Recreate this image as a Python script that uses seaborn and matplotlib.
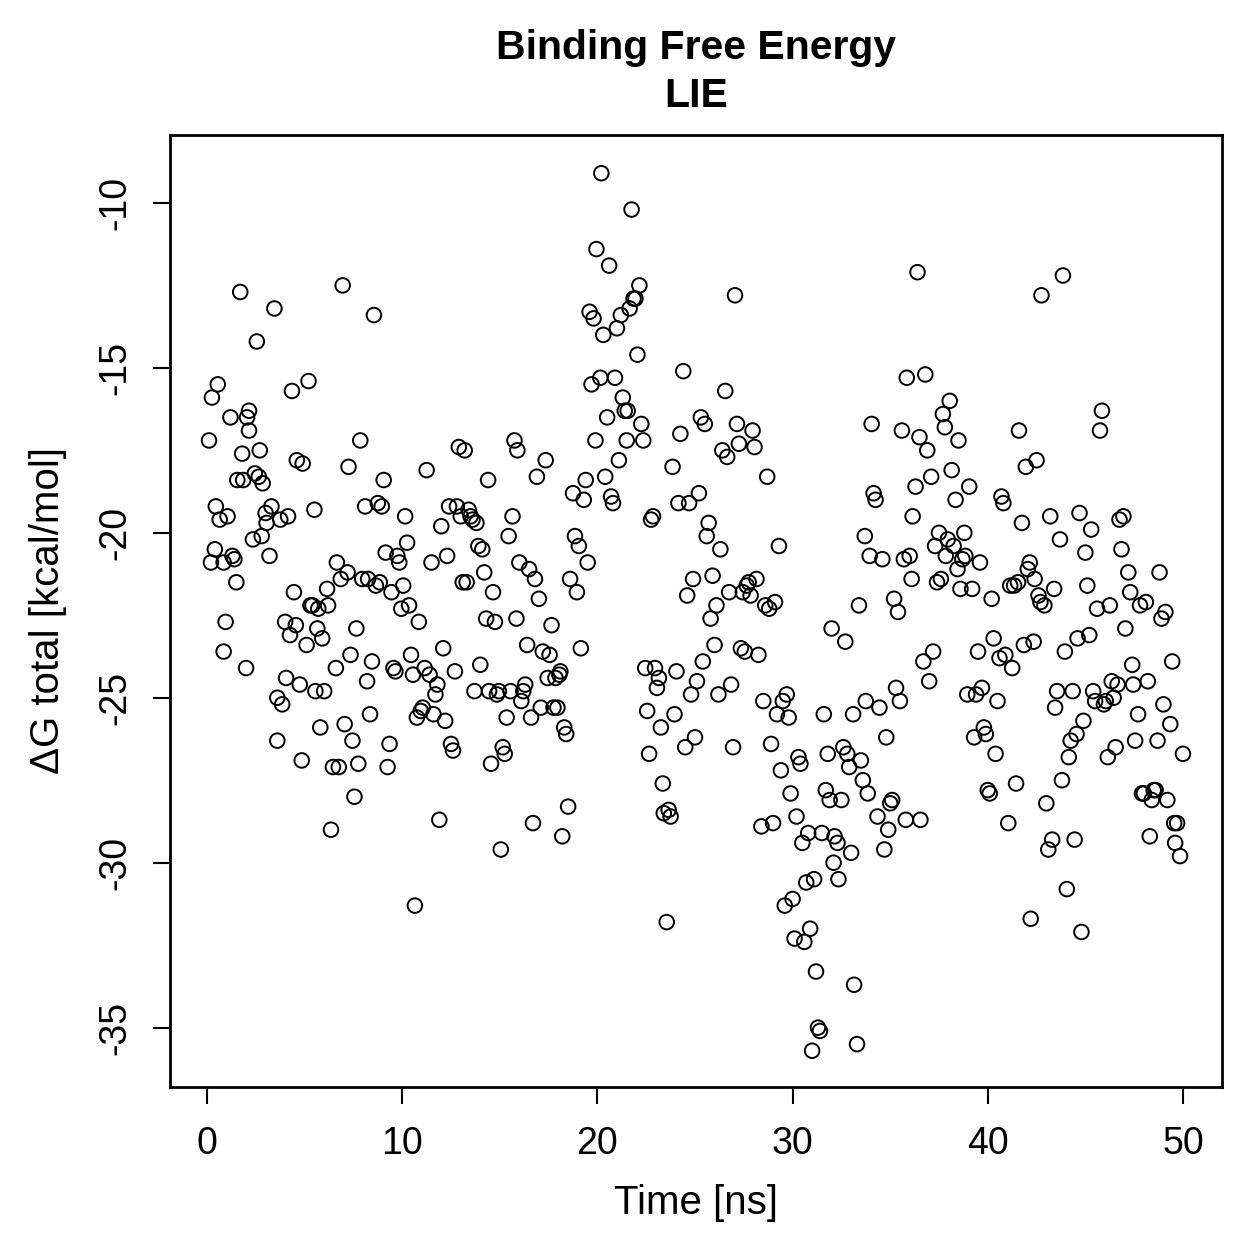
import numpy as np
import pandas as pd
import matplotlib
matplotlib.use("Agg")
import matplotlib.pyplot as plt
import seaborn as sns

# time points [ns]
time_ns = [
    0.1, 0.25, 0.55, 0.2, 0.4, 0.45, 0.65, 0.85, 0.85, 0.95, 1.05, 1.2, 1.3, 1.4, 1.5, 1.55, 1.7, 1.8, 1.85, 2.0,
    2.05, 2.15, 2.15, 2.35, 2.45, 2.55, 2.65, 2.7, 2.8, 2.85, 3.0, 3.05, 3.2, 3.3, 3.45, 3.6, 3.6, 3.75, 3.85, 4.0,
    4.05, 4.15, 4.25, 4.35, 4.45, 4.55, 4.6, 4.75, 4.85, 4.9, 5.1, 5.2, 5.3, 5.4, 5.5, 5.55, 5.65, 5.7, 5.8, 5.9,
    6.0, 6.15, 6.2, 6.35, 6.45, 6.6, 6.65, 6.75, 6.85, 6.95, 7.05, 7.2, 7.25, 7.35, 7.45, 7.55, 7.65, 7.75, 7.85, 7.95,
    8.1, 8.2, 8.25, 8.35, 8.45, 8.55, 8.65, 8.75, 8.85, 8.95, 9.05, 9.15, 9.25, 9.35, 9.45, 9.55, 9.65, 9.75, 9.85, 9.95,
    10.05, 10.15, 10.25, 10.35, 10.45, 10.55, 10.65, 10.75, 10.85, 10.95, 11.05, 11.15, 11.25, 11.4, 11.5, 11.6, 11.7, 11.8, 11.9, 12.0,
    12.1, 12.2, 12.3, 12.4, 12.5, 12.6, 12.7, 12.8, 12.9, 13.0, 13.1, 13.2, 13.3, 13.4, 13.5, 13.6, 13.7, 13.8, 13.9, 14.0,
    14.1, 14.2, 14.3, 14.4, 14.45, 14.55, 14.65, 14.75, 14.85, 14.95, 15.05, 15.15, 15.25, 15.35, 15.45, 15.55, 15.65, 15.75, 15.85, 15.9,
    16.0, 16.1, 16.2, 16.3, 16.4, 16.5, 16.6, 16.7, 16.8, 16.9, 17.0, 17.1, 17.2, 17.35, 17.45, 17.55, 17.65, 17.75, 17.85, 17.95,
    18.05, 18.1, 18.2, 18.3, 18.4, 18.5, 18.6, 18.75, 18.85, 18.95, 19.05, 19.15, 19.3, 19.4, 19.5, 19.6, 19.7, 19.8, 19.9, 19.95,
    20.15, 20.2, 20.3, 20.4, 20.5, 20.6, 20.7, 20.8, 20.9, 21.0, 21.1, 21.2, 21.3, 21.4, 21.5, 21.55, 21.65, 21.75, 21.85, 21.95,
    22.05, 22.15, 22.25, 22.35, 22.45, 22.55, 22.65, 22.75, 22.85, 22.95, 23.05, 23.15, 23.25, 23.35, 23.4, 23.55, 23.65, 23.75, 23.85, 23.95,
    24.05, 24.15, 24.25, 24.4, 24.5, 24.6, 24.7, 24.8, 24.9, 25.0, 25.1, 25.2, 25.3, 25.4, 25.5, 25.6, 25.7, 25.8, 25.9, 26.0,
    26.1, 26.2, 26.3, 26.4, 26.55, 26.65, 26.75, 26.85, 26.95, 27.05, 27.15, 27.25, 27.35, 27.45, 27.55, 27.65, 27.75, 27.85, 27.95, 28.05,
    28.15, 28.25, 28.4, 28.5, 28.6, 28.7, 28.8, 28.9, 29.0, 29.1, 29.2, 29.3, 29.4, 29.5, 29.6, 29.7, 29.8, 29.9, 30.0, 30.1,
    30.2, 30.3, 30.4, 30.5, 30.6, 30.7, 30.8, 30.9, 31.0, 31.1, 31.2, 31.3, 31.4, 31.5, 31.6, 31.7, 31.8, 31.9, 32.0, 32.1,
    32.15, 32.3, 32.35, 32.5, 32.6, 32.7, 32.8, 32.9, 33.0, 33.1, 33.15, 33.3, 33.4, 33.5, 33.6, 33.7, 33.75, 33.85, 33.95, 34.05,
    34.15, 34.25, 34.35, 34.45, 34.6, 34.7, 34.8, 34.9, 35.0, 35.1, 35.2, 35.3, 35.4, 35.5, 35.6, 35.7, 35.8, 35.85, 36.0, 36.1,
    36.15, 36.3, 36.4, 36.5, 36.55, 36.7, 36.8, 36.9, 37.0, 37.1, 37.2, 37.3, 37.4, 37.5, 37.6, 37.7, 37.8, 37.85, 37.95, 38.05,
    38.15, 38.25, 38.35, 38.45, 38.5, 38.6, 38.7, 38.8, 38.85, 38.95, 39.05, 39.2, 39.3, 39.4, 39.5, 39.6, 39.7, 39.8, 39.9, 40.0,
    40.1, 40.2, 40.3, 40.4, 40.5, 40.6, 40.7, 40.8, 40.9, 41.05, 41.15, 41.25, 41.35, 41.45, 41.55, 41.6, 41.75, 41.85, 41.95, 42.05,
    42.15, 42.2, 42.35, 42.4, 42.5, 42.6, 42.7, 42.75, 42.9, 43.0, 43.1, 43.2, 43.3, 43.4, 43.45, 43.55, 43.7, 43.8, 43.85, 43.95,
    44.05, 44.15, 44.25, 44.35, 44.45, 44.55, 44.6, 44.7, 44.8, 44.9, 45.0, 45.1, 45.2, 45.3, 45.4, 45.5, 45.6, 45.75, 45.85, 45.95,
    46.05, 46.15, 46.25, 46.35, 46.45, 46.55, 46.65, 46.75, 46.85, 46.95, 47.05, 47.2, 47.3, 47.4, 47.45, 47.55, 47.7, 47.8, 47.9, 48.0,
    48.1, 48.2, 48.3, 48.4, 48.5, 48.6, 48.7, 48.8, 48.9, 49.0, 49.1, 49.2, 49.35, 49.45, 49.55, 49.6, 49.7, 49.85, 50.0,
]

# Delta G total [kcal/mol]
dg_total = [
    -17.2, -15.9, -15.5, -20.9, -20.5, -19.2, -19.6, -20.9, -23.6, -22.7, -19.5, -16.5, -20.7, -20.8, -21.5, -18.4, -12.7, -17.6, -18.4, -24.1,
    -16.5, -16.3, -16.9, -20.2, -18.2, -14.2, -18.3, -17.5, -20.1, -18.5, -19.4, -19.7, -20.7, -19.2, -13.2, -25.0, -26.3, -19.6, -25.2, -22.7,
    -24.4, -19.5, -23.1, -15.7, -21.8, -22.8, -17.8, -24.6, -26.9, -17.9, -23.4, -15.4, -22.2, -22.2, -19.3, -24.8, -22.9, -22.3, -25.9, -23.2,
    -24.8, -21.7, -22.2, -29.0, -27.1, -24.1, -20.9, -27.1, -21.4, -12.5, -25.8, -21.2, -18.0, -23.7, -26.3, -28.0, -22.9, -27.0, -17.2, -21.4,
    -19.2, -24.5, -21.4, -25.5, -23.9, -13.4, -21.6, -19.1, -21.5, -19.2, -18.4, -20.6, -27.1, -26.4, -21.8, -24.1, -24.2, -20.7, -20.9, -22.3,
    -21.6, -19.5, -20.3, -22.2, -23.7, -24.3, -31.3, -25.6, -22.7, -25.4, -25.3, -24.1, -18.1, -24.3, -20.9, -25.5, -24.9, -24.6, -28.7, -19.8,
    -23.5, -25.7, -20.7, -19.2, -26.4, -26.6, -24.2, -19.2, -17.4, -19.5, -21.5, -17.5, -21.5, -19.3, -19.5, -19.6, -24.8, -19.7, -20.4, -24.0,
    -20.5, -21.2, -22.6, -18.4, -24.8, -27.0, -21.8, -22.7, -24.9, -24.8, -29.6, -26.5, -26.7, -25.6, -20.1, -24.8, -19.5, -17.2, -22.6, -17.5,
    -20.9, -25.1, -24.8, -24.6, -23.4, -21.1, -25.6, -28.8, -21.4, -18.3, -22.0, -25.3, -23.6, -17.8, -24.4, -23.7, -22.8, -25.3, -24.4, -25.3,
    -24.3, -24.2, -29.2, -25.9, -26.1, -28.3, -21.4, -18.8, -20.1, -21.8, -20.4, -23.5, -19.0, -18.4, -20.9, -13.3, -15.5, -13.5, -17.2, -11.4,
    -15.3, -9.1, -14.0, -18.3, -16.5, -11.9, -18.9, -19.1, -15.3, -13.8, -17.8, -13.4, -15.9, -16.3, -17.2, -16.3, -13.2, -10.2, -12.9, -12.9,
    -14.6, -12.5, -16.7, -17.2, -24.1, -25.4, -26.7, -19.6, -19.5, -24.1, -24.7, -24.4, -25.9, -27.6, -28.5, -31.8, -28.4, -28.6, -18.0, -25.5,
    -24.2, -19.1, -17.0, -15.1, -26.5, -21.9, -19.1, -24.9, -21.4, -26.2, -24.5, -18.8, -16.5, -23.9, -16.7, -20.1, -19.7, -22.6, -21.3, -23.4,
    -22.2, -24.9, -20.5, -17.5, -15.7, -17.7, -21.8, -24.6, -26.5, -12.8, -16.7, -17.3, -23.5, -21.8, -23.6, -21.6, -21.5, -21.9, -16.9, -17.4,
    -21.4, -23.7, -28.9, -25.1, -22.2, -18.3, -22.3, -26.4, -28.8, -22.1, -25.5, -20.4, -27.2, -25.1, -31.3, -24.9, -25.6, -27.9, -31.1, -32.3,
    -28.6, -26.8, -27.0, -29.4, -32.4, -30.6, -29.1, -32.0, -35.7, -30.5, -33.3, -35.0, -35.1, -29.1, -25.5, -27.8, -26.7, -28.1, -22.9, -30.0,
    -29.2, -29.4, -30.5, -28.1, -26.5, -23.3, -26.7, -27.1, -29.7, -25.5, -33.7, -35.5, -22.2, -26.9, -27.5, -20.1, -25.1, -27.9, -20.7, -16.7,
    -18.8, -19.0, -28.6, -25.3, -20.8, -29.6, -26.2, -29.0, -28.2, -28.1, -22.0, -24.7, -22.4, -25.1, -16.9, -20.8, -28.7, -15.3, -20.7, -21.4,
    -19.5, -18.6, -12.1, -17.1, -28.7, -23.9, -15.2, -17.5, -24.5, -18.3, -23.6, -20.4, -21.5, -20.0, -21.4, -16.4, -16.8, -20.7, -20.2, -16.0,
    -18.1, -20.4, -19.0, -21.1, -17.2, -21.7, -20.8, -20.0, -20.7, -24.9, -18.6, -21.7, -26.2, -24.9, -23.6, -20.9, -24.7, -25.9, -26.1, -27.8,
    -27.9, -22.0, -23.2, -26.7, -25.1, -23.8, -18.9, -19.1, -23.7, -28.8, -21.6, -24.1, -21.6, -27.6, -21.5, -16.9, -19.7, -23.4, -18.0, -21.1,
    -20.9, -31.7, -23.3, -21.4, -17.8, -21.9, -22.1, -12.8, -22.2, -28.2, -29.6, -19.5, -29.3, -21.7, -25.3, -24.8, -20.2, -27.5, -12.2, -23.6,
    -30.8, -26.8, -26.3, -24.8, -29.3, -26.1, -23.2, -19.4, -32.1, -25.7, -20.6, -21.6, -23.1, -19.9, -24.8, -25.1, -22.3, -16.9, -16.3, -25.2,
    -25.1, -26.8, -22.2, -24.5, -25.0, -26.5, -24.6, -19.6, -20.5, -19.5, -22.9, -21.2, -21.8, -24.0, -24.6, -26.3, -25.5, -22.2, -27.9, -27.9,
    -22.1, -24.5, -29.2, -28.1, -27.8, -27.8, -26.3, -21.2, -22.6, -25.2, -22.4, -28.1, -25.8, -23.9, -28.8, -29.4, -28.8, -29.8, -26.7,
]

x_ticks = [0, 10, 20, 30, 40, 50]
y_ticks = [-10, -15, -20, -25, -30, -35]

df = pd.DataFrame({"time": time_ns, "dg": dg_total})

sns.set_style("ticks")
plt.rcParams["font.family"] = ["Liberation Sans", "DejaVu Sans"]
plt.rcParams["text.color"] = "black"
plt.rcParams["axes.labelcolor"] = "black"

fig = plt.figure(figsize=(12.59, 12.59), dpi=100)
ax = fig.add_axes([0.135, 0.1366, 0.8356, 0.7562])

sns.scatterplot(data=df, x="time", y="dg", ax=ax, marker="o", s=110,
                facecolor="none", edgecolor="black", linewidth=1.4)

ax.set_xlim(-1.9, 52.0)
ax.set_ylim(-36.8, -7.94)
ax.set_xticks(x_ticks)
ax.set_yticks(y_ticks)
ax.set_yticklabels([str(v) for v in y_ticks], rotation=90, va="center")
ax.tick_params(axis="both", direction="out", length=12, width=1.5, labelsize=27,
               color="black", labelcolor="black")
ax.tick_params(axis="x", pad=16)
ax.tick_params(axis="y", pad=14)

for sp in ax.spines.values():
    sp.set_visible(True)
    sp.set_color("black")
    sp.set_linewidth(2.0)

ax.set_xlabel("Time [ns]", fontsize=29, labelpad=16)
ax.set_ylabel("ΔG total [kcal/mol]", fontsize=29, labelpad=22)
ax.set_title("Binding Free Energy\nLIE", fontsize=29.5, fontweight="bold",
             pad=20, linespacing=1.35)

fig.savefig("out.png", dpi=100, facecolor="white")
